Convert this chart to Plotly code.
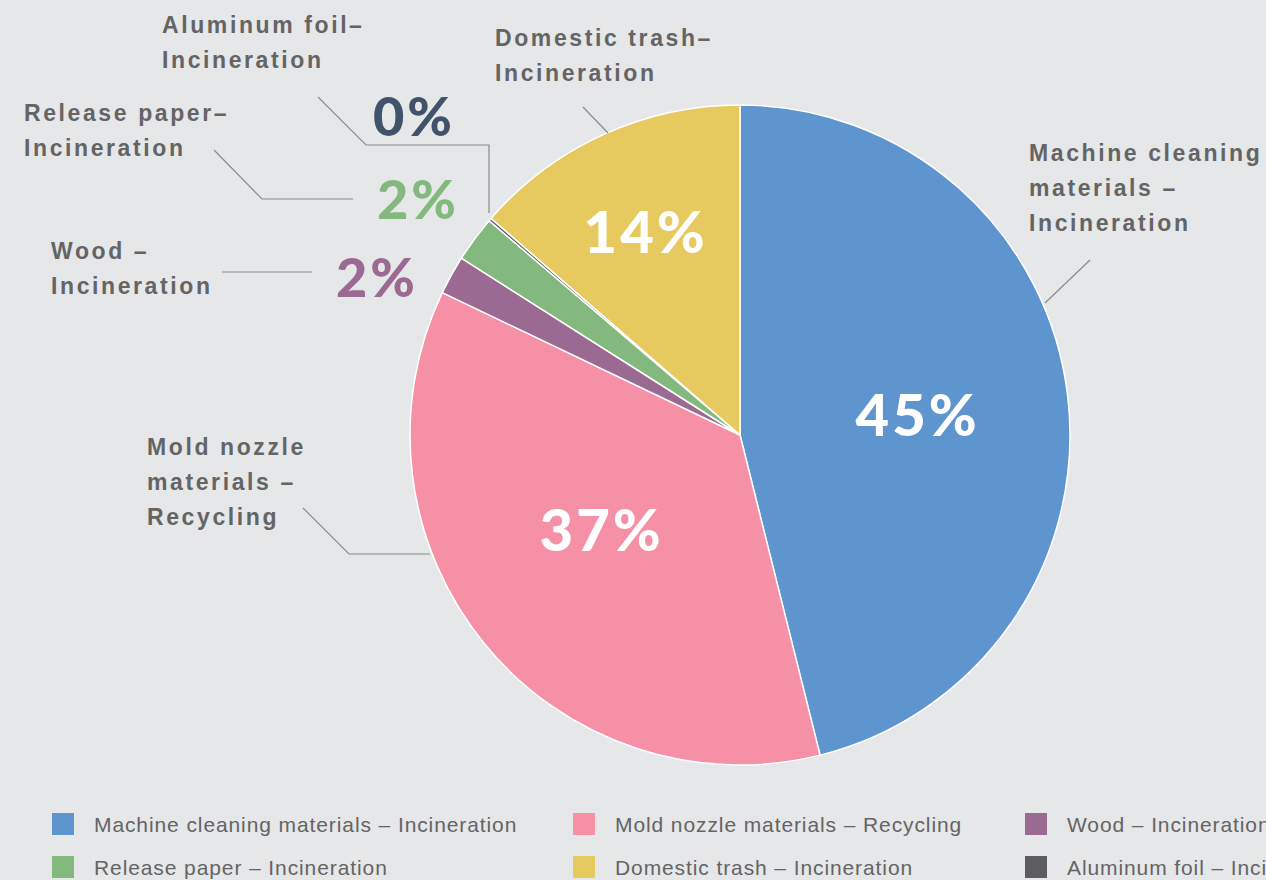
import math
import plotly.graph_objects as go

# ---------------- data ----------------
categories = [
    "Machine cleaning materials – Incineration",
    "Mold nozzle materials – Recycling",
    "Wood – Incineration",
    "Release paper – Incineration",
    "Aluminum foil – Incineration",
    "Domestic trash – Incineration",
]
values = [46.1, 36.0, 1.9, 2.25, 0.15, 13.6]
pct_labels = ["45%", "37%", "2%", "2%", "0%", "14%"]
legend_order = [0, 1, 2, 3, 5, 4]

# ---------------- style ----------------
colors = ["#5e95cf", "#f590a6", "#9a6a92", "#83b87f", "#5d5d60", "#e6ca5f"]
BG = "#e6e7e9"
TXT = "#646464"
W, H = 1266, 880
CX, CY, R = 740, 435, 330

def px(x):
    return x / W

def py(y):
    return 1 - y / H

# (angle offset deg, radius factor, font size, colour) per slice percent label
pct_style = [
    (0.2, 0.537, 58, "#ffffff"),
    (5.6, 0.51, 58, "#ffffff"),
    (-5.5, 1.203, 54, "#9a6a92"),
    (-0.25, 1.215, 54, "#83b87f"),
    (3.5, 1.386, 54, "#41536a"),
    (-0.7, 0.685, 58, "#ffffff"),
]

# category call-out labels: (left x, first baseline, lines)
callouts = [
    (1028, 161, ["Machine cleaning", "materials –", "Incineration"]),
    (146, 455, ["Mold nozzle", "materials –", "Recycling"]),
    (50, 259.5, ["Wood –", "Incineration"]),
    (23, 121, ["Release paper–", "Incineration"]),
    (161, 33, ["Aluminum foil–", "Incineration"]),
    (494, 46, ["Domestic trash–", "Incineration"]),
]
LINE_GAP = 35
LABEL_SIZE = 23

leaders = [
    [(1045, 303), (1090, 260)],
    [(303, 508), (349, 554), (430, 554)],
    [(222, 272), (312, 272)],
    [(214, 150), (262, 199), (353, 199)],
    [(318, 97), (366, 145), (489, 145), (489, 213)],
    [(583, 107), (608, 133)],
]

fig = go.Figure()
fig.add_trace(go.Pie(
    labels=categories,
    values=values,
    sort=False,
    direction="clockwise",
    rotation=0,
    marker=dict(colors=colors, line=dict(color="#ffffff", width=1.5)),
    textinfo="none",
    hoverinfo="label+percent",
    showlegend=False,
    domain=dict(x=[px(CX - R), px(CX + R)], y=[py(CY + R), py(CY - R)]),
))

annotations = []
shapes = []

# percent labels computed from slice angles
total = sum(values)
cum = 0.0
for i, v in enumerate(values):
    mid = (cum + v / 2) / total * 360.0
    cum += v
    da, rf, size, col = pct_style[i]
    a = math.radians(mid + da)
    x = CX + rf * R * math.sin(a) + 1.5
    y = CY - rf * R * math.cos(a)
    annotations.append(dict(
        x=px(x), y=py(y), xref="paper", yref="paper",
        text=pct_labels[i], showarrow=False,
        xanchor="center", yanchor="middle", align="center",
        font=dict(family="Lato", size=size, color=col, weight=900),
    ))

# call-out labels
for (lx, base, lines) in callouts:
    for k, line in enumerate(lines):
        yb = base + k * LINE_GAP
        annotations.append(dict(
            x=px(lx), y=py(yb - 0.35 * LABEL_SIZE), xref="paper", yref="paper",
            text=line, showarrow=False, xanchor="left", yanchor="middle", align="left",
            borderpad=0,
            font=dict(family="Liberation Sans", size=LABEL_SIZE, color=TXT, weight=700),
        ))

for pts in leaders:
    path = "M " + " L ".join(f"{px(x)},{py(y)}" for x, y in pts)
    shapes.append(dict(type="path", xref="paper", yref="paper", path=path,
                       line=dict(color="#8a8a8a", width=1.2)))

# custom legend (3 columns, cut at right edge like the reference)
col_x = [52, 573, 1025]
row_y = [813, 856]
SQ = 22
for n, idx in enumerate(legend_order):
    r_, c_ = divmod(n, 3)
    x0 = col_x[c_]
    y0 = row_y[r_]
    shapes.append(dict(type="rect", xref="paper", yref="paper",
                       x0=px(x0), x1=px(x0 + SQ), y0=py(y0 + SQ), y1=py(y0),
                       fillcolor=colors[idx], line=dict(width=0)))
    annotations.append(dict(
        x=px(x0 + 41), y=py(y0 + SQ / 2 + 0.5), xref="paper", yref="paper",
        text=categories[idx], showarrow=False, xanchor="left", yanchor="middle",
        align="left", borderpad=0,
        font=dict(family="Liberation Sans", size=21, color=TXT, weight=400),
    ))

fig.update_layout(
    width=W, height=H,
    margin=dict(l=0, r=0, t=0, b=0),
    paper_bgcolor=BG, plot_bgcolor=BG,
    annotations=annotations, shapes=shapes,
    showlegend=False,
)

post = """
var gd = document.getElementById('{plot_id}');
function spaceText(){
  gd.querySelectorAll('g.annotation text.annotation-text').forEach(function(t){
    var ff = t.style.fontFamily || '';
    var fw = String(t.style.fontWeight || '');
    if (ff.indexOf('Liberation') >= 0) {
      if (fw === '700' || fw === 'bold') { t.setAttribute('letter-spacing', '2.6px'); }
      else { t.setAttribute('letter-spacing', '0.9px'); }
    } else if (ff.indexOf('Lato') >= 0) {
      t.setAttribute('letter-spacing', '3px');
    }
  });
}
spaceText();
"""
fig.write_html("out.html", post_script=post)
